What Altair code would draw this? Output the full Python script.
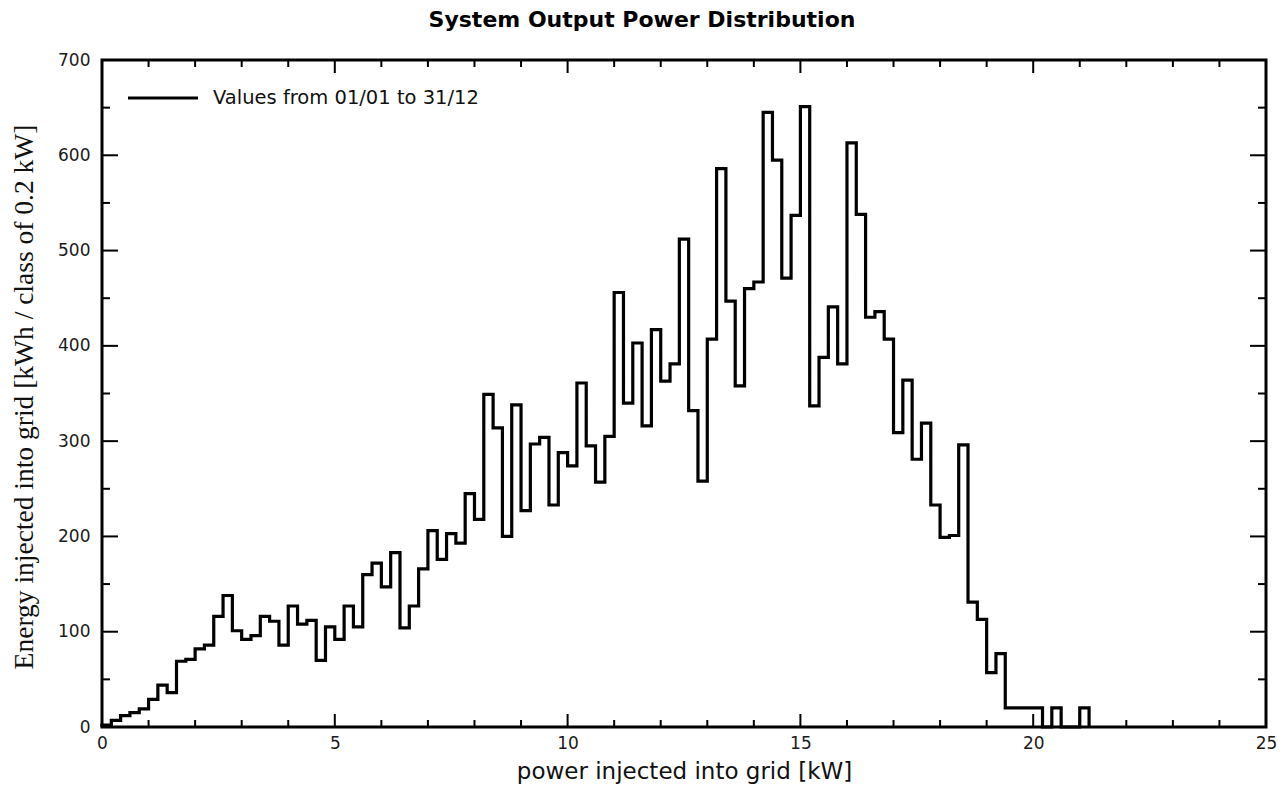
import altair as alt
import pandas as pd

# ---- data ----
BIN_WIDTH = 0.2  # kW per class
energy = [2, 7, 12, 15, 19, 29, 44, 36, 69, 71,
          82, 86, 116, 138, 101, 92, 96, 116, 111, 86,
          127, 108, 112, 70, 105, 92, 127, 105, 160, 172,
          147, 183, 104, 127, 166, 206, 176, 203, 193, 245,
          218, 349, 314, 200, 338, 227, 297, 304, 233, 288,
          274, 361, 295, 257, 305, 456, 340, 403, 316, 417,
          363, 381, 512, 332, 258, 407, 586, 447, 358, 460,
          467, 645, 595, 471, 537, 651, 337, 388, 441, 381,
          613, 538, 430, 436, 407, 309, 364, 281, 319, 233,
          199, 201, 296, 131, 113, 57, 77, 20, 20, 20,
          20, 0, 20, 0, 0, 20]

x_major = [0, 5, 10, 15, 20, 25]
x_minor = [1, 2, 3, 4, 6, 7, 8, 9, 11, 12, 13, 14, 16, 17, 18, 19, 21, 22, 23, 24]
y_major = [0, 100, 200, 300, 400, 500, 600, 700]
y_minor = [50, 150, 250, 350, 450, 550, 650]

title_text = "System Output Power Distribution"
legend_text = "Values from 01/01 to 31/12"
x_title = "power injected into grid [kW]"
y_title = "Energy injected into grid [kWh / class of 0.2 kW]"

# ---- build step outline table ----
xs_ = [0.0] + [i * BIN_WIDTH for i in range(len(energy))] + [len(energy) * BIN_WIDTH]
ys_ = [0] + list(energy) + [0]
steps = pd.DataFrame({"x": xs_, "y": ys_, "o": range(len(xs_))})

W, H = 1164, 667
SANS = "DejaVu Sans"
SERIF = "Liberation Serif"

xscale = alt.Scale(domain=[0, 25], nice=False, zero=False)
yscale = alt.Scale(domain=[0, 700], nice=False)

AX = alt.Axis(values=x_major, ticks=False, domain=False, grid=False,
              labelFont=SANS, labelFontSize=17, labelColor="#1a1a1a",
              labelPadding=8, format="d", labelFlush=False, labelOverlap=False,
              title=x_title, titleFont=SANS, titleFontSize=23,
              titleFontWeight="normal", titleColor="#111",
              titleX=W / 2, titleY=51, titleBaseline="alphabetic")
AY = alt.Axis(values=y_major, ticks=False, domain=False, grid=False,
              labelFont=SANS, labelFontSize=17, labelColor="#1a1a1a",
              labelPadding=12, format="d", labelFlush=False, labelOverlap=False,
              title=y_title, titleFont=SERIF, titleFontSize=27.5,
              titleFontWeight="normal", titleColor="#111",
              titleX=-70, titleY=H / 2 + 3, titleAngle=-90,
              titleBaseline="alphabetic")

line = alt.Chart(steps).mark_line(
    interpolate="step-after", color="black", strokeWidth=3.2
).encode(
    x=alt.X("x:Q", scale=xscale, axis=AX),
    y=alt.Y("y:Q", scale=yscale, axis=AY),
    order="o:Q",
)


def vticks(vals, y0, y1, width):
    return alt.Chart(pd.DataFrame({"v": vals})).mark_rule(color="black", strokeWidth=width).encode(
        x=alt.X("v:Q", scale=xscale, axis=AX),
        y=alt.value(y0), y2=alt.value(y1))


def hticks(vals, x0, x1, width):
    return alt.Chart(pd.DataFrame({"v": vals})).mark_rule(color="black", strokeWidth=width).encode(
        y=alt.Y("v:Q", scale=yscale, axis=AY),
        x=alt.value(x0), x2=alt.value(x1))


XMAJ, XMIN, YMAJ, YMIN = 13, 7, 16, 8
ticks = [
    vticks(x_major, H, H - XMAJ, 2), vticks(x_minor, H, H - XMIN, 2),
    vticks(x_major, 0, XMAJ, 2), vticks(x_minor, 0, XMIN, 2),
    hticks(y_major, 0, YMAJ, 2), hticks(y_minor, 0, YMIN, 2),
    hticks(y_major, W, W - YMAJ, 2), hticks(y_minor, W, W - YMIN, 2),
]

one = pd.DataFrame({"t": [legend_text]})
legend_line = alt.Chart(one).mark_rule(color="black", strokeWidth=3).encode(
    x=alt.value(26), x2=alt.value(96), y=alt.value(38))
legend_label = alt.Chart(one).mark_text(
    font=SANS, fontSize=19.5, align="left", baseline="middle", color="#111"
).encode(text="t:N", x=alt.value(111), y=alt.value(38))

title = alt.Chart(pd.DataFrame({"t": [title_text]})).mark_text(
    font=SANS, fontSize=22, fontWeight="bold", align="center", baseline="alphabetic", color="black"
).encode(text="t:N", x=alt.value(540), y=alt.value(-33))

chart = alt.layer(line, *ticks, legend_line, legend_label, title).properties(
    width=W, height=H,
    autosize=alt.AutoSizeParams(type="none"),
    padding={"left": 102, "top": 60, "right": 22, "bottom": 60},
    background="white",
).configure_view(stroke="black", strokeWidth=3)

chart.save("out.html", embed_options={"renderer": "svg", "actions": False})
